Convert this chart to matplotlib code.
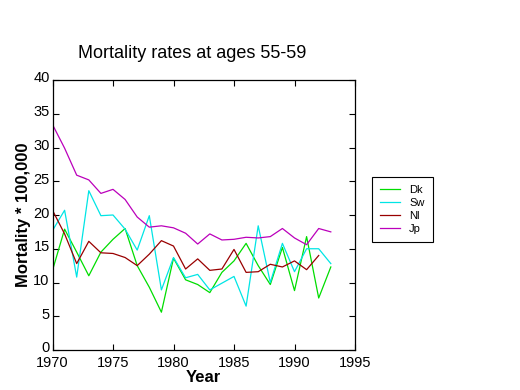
import matplotlib
matplotlib.use('Agg')
import matplotlib.pyplot as plt
import matplotlib.transforms as mtransforms

plt.rcParams['font.family'] = ['Liberation Sans', 'DejaVu Sans']

years = list(range(1970, 1994))

dk = [11.8, 17.9, 14.5, 11.0, 14.5, 16.4, 18.0, 12.5, 9.3, 5.6, 13.6, 10.4,
      9.7, 8.5, 11.5, 13.2, 15.8, 12.5, 9.7, 15.2, 8.8, 16.8, 7.7, 12.3]
sw = [17.7, 20.7, 10.8, 23.6, 19.9, 20.0, 17.9, 14.8, 19.9, 8.9, 13.7, 10.7,
      11.2, 8.9, 9.9, 10.9, 6.5, 18.4, 10.0, 15.8, 11.6, 15.0, 15.0, 12.8]
nl = [20.7, 17.2, 12.8, 16.1, 14.4, 14.3, 13.7, 12.5, 14.2, 16.2, 15.4, 12.0,
      13.5, 11.8, 12.0, 14.9, 11.5, 11.6, 12.7, 12.3, 13.2, 11.9, 14.0]
jp = [33.4, 29.9, 25.9, 25.2, 23.2, 23.8, 22.3, 19.7, 18.2, 18.4, 18.1, 17.3,
      15.7, 17.2, 16.3, 16.4, 16.7, 16.6, 16.8, 18.0, 16.6, 15.6, 18.0, 17.5]

series = [('Dk', dk, '#00dd00'), ('Sw', sw, '#00e5e5'),
          ('Nl', nl, '#990000'), ('Jp', jp, '#bb00bb')]

fig = plt.figure(figsize=(5.2, 3.9), dpi=100)
ax = fig.add_axes([52.5 / 520, 1 - 350 / 390, (355 - 52.5) / 520, 270 / 390])

for name, vals, col in series:
    ax.plot(years[:len(vals)], vals, color=col, linewidth=0.9, label=name)

ax.set_xlim(1970, 1995)
ax.set_ylim(0, 40)
ax.set_xticks(range(1970, 1996, 5))
ax.set_yticks(range(0, 41, 5))
ax.tick_params(direction='in', top=True, right=True, labelsize=10.5, length=4)
ax.tick_params(axis='y', pad=2)
ax.tick_params(axis='x', pad=4)
for s in ax.spines.values():
    s.set_linewidth(0.9)

# nudge y tick labels up a little, like the original
shift = mtransforms.ScaledTranslation(0, 3 / 100, fig.dpi_scale_trans)
for lab in ax.get_yticklabels():
    lab.set_transform(lab.get_transform() + shift)

ax.set_xlabel('Year', fontsize=12, fontweight='bold', labelpad=0.5)
ax.set_ylabel('Mortality * 100,000', fontsize=12, fontweight='bold', labelpad=2)
fig.text(192 / 520, 1 - 53 / 390, 'Mortality rates at ages 55-59',
         fontsize=13, ha='center', va='center')

leg = ax.legend(loc='upper left', bbox_to_anchor=(372 / 520, 1 - 177 / 390),
                bbox_transform=fig.transFigure, fontsize=8, fancybox=False,
                framealpha=1, edgecolor='black', handlelength=1.8,
                handletextpad=0.8, borderpad=0.75, labelspacing=0.25,
                borderaxespad=0)
leg.get_frame().set_linewidth(0.8)

fig.savefig('out.png', dpi=100)
